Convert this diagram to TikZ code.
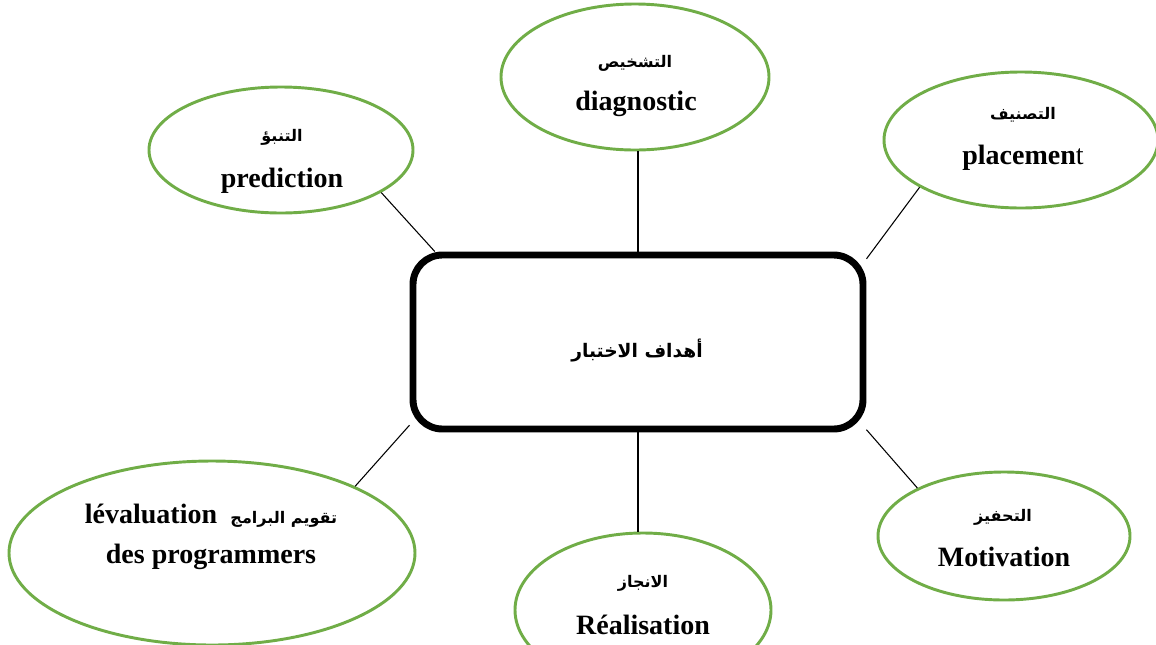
\documentclass[tikz,border=0pt]{standalone}
\usepackage{fontspec}
\setmainfont{Liberation Serif}
\newfontfamily\arabicfont[Script=Arabic]{DejaVu Sans}
\TeXXeTstate=1
\usetikzlibrary{shapes.geometric,calc}
\newcommand{\artext}[1]{{\arabicfont\beginR #1\endR}}
\definecolor{goalgreen}{HTML}{70AD47}
\begin{document}
\begin{tikzpicture}[x=0.75pt,y=-0.75pt,
  goal/.style={ellipse, draw=goalgreen, line width=2.2pt, inner sep=0pt, fill=white},
  hub/.style={rectangle, draw=black, line width=5.2pt, rounded corners=22pt, inner sep=0pt, fill=white},
  lbl/.style={font=\bfseries\fontsize{21}{24}\selectfont, inner sep=0pt},
  arlbl/.style={font=\arabicfont\bfseries\fontsize{12}{14}\selectfont, inner sep=0pt},
  link/.style={line width=0.8pt, draw=black}]
\useasboundingbox (0,0) rectangle (1156,644);
% goals
\node[goal, minimum width={264*0.75pt}, minimum height={126*0.75pt}] (pred) at (281,150) {};
\node[goal, minimum width={268*0.75pt}, minimum height={146*0.75pt}] (diag) at (635,77) {};
\node[goal, minimum width={274*0.75pt}, minimum height={136*0.75pt}] (place) at (1021,140) {};
\node[goal, minimum width={406*0.75pt}, minimum height={184*0.75pt}] (eval) at (212,553) {};
\node[goal, minimum width={256*0.75pt}, minimum height={154*0.75pt}] (real) at (643,610) {};
\node[goal, minimum width={252*0.75pt}, minimum height={128*0.75pt}] (motiv) at (1004,536) {};
% hub
\node[hub, minimum width={450*0.75pt}, minimum height={174*0.75pt}] (main) at (638,342) {};
% labels
\node[arlbl] (predar) at (282,137) {\artext{التنبؤ}};
\node[lbl] (preden) at (282,181) {prediction};
\node[arlbl] (diagar) at (635,63) {\artext{التشخيص}};
\node[lbl] (diagen) at (636,104) {diagnostic};
\node[arlbl] (placear) at (1023,115) {\artext{التصنيف}};
\node[lbl] (placeen) at (1023,158) {placemen\mdseries t};
\node[lbl] (evalone) at (211,516) {lévaluation\hspace{10pt}{\arabicfont\fontsize{12}{14}\selectfont\beginR تقويم البرامج\endR}};
\node[lbl] (evaltwo) at (211,557) {des programmers};
\node[arlbl] (realar) at (643,583) {\artext{الانجاز}};
\node[lbl] (realen) at (643,625) {Réalisation};
\node[arlbl] (motivar) at (1003,517) {\artext{التحفيز}};
\node[lbl] (motiven) at (1004,557) {Motivation};
\node[font=\arabicfont\bfseries\fontsize{14}{16}\selectfont, inner sep=0pt] (mainar) at (637,350) {\artext{أهداف الاختبار}};
% connectors
\draw[link] (pred.-23) -- (main.156);
\draw[link] (main.north) -- (main.north |- diag.south);
\draw[link] (place.205) -- (main.20);
\draw[link] (eval.25) -- (main.200);
\draw[link] (main.south) -- (main.south |- real.north);
\draw[link] (motiv.151) -- (main.-21);
\end{tikzpicture}
\end{document}
